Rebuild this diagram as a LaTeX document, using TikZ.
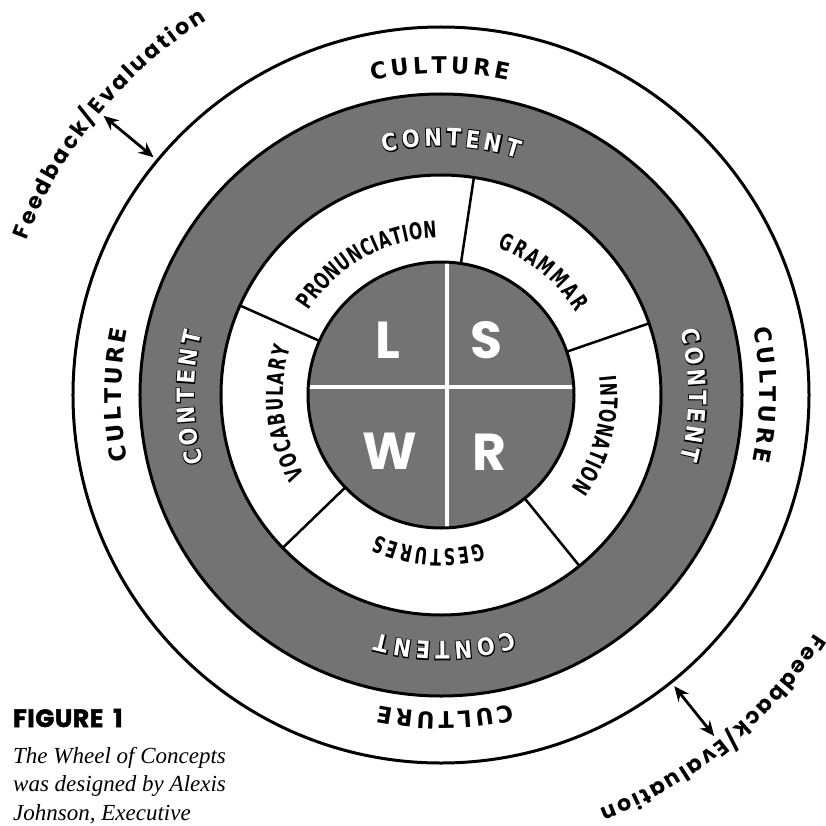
\documentclass[tikz,border=0pt]{standalone}
\usepackage{fontspec}
\usetikzlibrary{decorations.text,arrows.meta}
\newfontfamily\labfont{DejaVu Sans}[FakeStretch=0.68]
\newfontfamily\culfont{DejaVu Sans}[FakeStretch=0.97]
\newfontfamily\confont{DejaVu Sans}[FakeStretch=0.88]
\newfontfamily\confontO{DejaVu Sans}[FakeStretch=0.88,FakeBold=8]
\newfontfamily\fbfont{Poppins}
\newfontfamily\figfont{Poppins}[FakeBold=2,LetterSpace=2]
\newfontfamily\capfont{Liberation Serif}
\definecolor{ringgray}{gray}{0.45}
\newcommand\labsize{\labfont\bfseries\fontsize{23}{23}\selectfont}
\newcommand\culsize{\culfont\bfseries\fontsize{23}{23}\selectfont}
\newcommand\consize{\confont\bfseries\fontsize{24}{24}\selectfont}
\newcommand\consizeO{\confontO\bfseries\fontsize{24}{24}\selectfont}
\newcommand\fbsize{\fbfont\bfseries\fontsize{22}{22}\selectfont}
\newcommand\arclabel[6]{%
  \path[decorate,decoration={text along path,text align=fit to path,text color=#5,text={|#4|#6}}]
    (#2:#1) arc[start angle=#2,end angle=#3,radius=#1];}
\newcommand\contentlabel[3]{%
  \arclabel{#1}{#2}{#3}{\consizeO}{black}{CONTENT}%
  \arclabel{#1}{#2}{#3}{\consize}{white}{CONTENT}}
\begin{document}
\begin{tikzpicture}[x=1pt,y=1pt,
  ringline/.style={line width=3pt},
  spoke/.style={line width=2.5pt},
  fbarrow/.style={line width=2.8pt,{Stealth[length=15pt,width=13pt]}-{Stealth[length=15pt,width=13pt]}},
  bigletter/.style={white,font=\fbfont\bfseries\fontsize{52}{52}\selectfont,inner sep=0pt},
  caption/.style={anchor=base west,inner sep=0pt,font=\capfont\itshape\fontsize{23}{23}\selectfont}]
\useasboundingbox (-441,-430) rectangle (385,395);
\fill[white] (-441,-430) rectangle (385,395);
% outer circle (culture)
\draw[ringline] (0,0) circle[radius=368pt];
% content ring
\fill[ringgray] (0,0) circle[radius=301pt];
\fill[white] (0,0) circle[radius=220pt];
\draw[ringline] (0,0) circle[radius=301pt];
\draw[ringline] (0,0) circle[radius=220pt];
% spokes
\foreach \a in {81.4,19,-51,-136,156}{\draw[spoke] (\a:132pt) -- (\a:221pt);}
% centre circle
\begin{scope}
\clip (0,0) circle[radius=133pt];
\fill[ringgray] (0,0) circle[radius=133pt];
\draw[white,line width=4pt] (6,-140) -- (6,140);
\draw[white,line width=4pt] (-140,8) -- (140,8);
\end{scope}
\draw[ringline] (0,0) circle[radius=133pt];
\node[bigletter] (L) at (-53.5,55) {L};
\node[bigletter] (S) at (45,55) {S};
\node[bigletter] (W) at (-51.5,-56) {W};
\node[bigletter] (R) at (48,-57) {R};
% inner labels
\arclabel{157pt}{147.5}{91.5}{\labsize}{black}{PRONUNCIATION}
\arclabel{158pt}{69}{31.5}{\labsize}{black}{GRAMMAR}
\arclabel{160pt}{6.5}{-35.5}{\labsize}{black}{INTONATION}
\arclabel{154pt}{-74.5}{-114.5}{\labsize}{black}{GESTURES}
\arclabel{158pt}{210.5}{162.5}{\labsize}{black}{VOCABULARY}
% content labels
\contentlabel{249pt}{103.3}{72}
\contentlabel{248pt}{15}{-15}
\contentlabel{247pt}{195.8}{165.4}
\contentlabel{247pt}{-73.2}{-105.1}
% culture labels
\arclabel{322pt}{102.4}{77.9}{\culsize}{black}{CULTURE}
\arclabel{319pt}{12}{-12}{\culsize}{black}{CULTURE}
\arclabel{320pt}{191.8}{168.2}{\culsize}{black}{CULTURE}
\arclabel{317pt}{-77.1}{-101.4}{\culsize}{black}{CULTURE}
% feedback / evaluation
\arclabel{442pt}{159.5}{122}{\fbsize}{black}{Feedback/Evaluation}
\arclabel{443pt}{-32.5}{-69}{\fbsize}{black}{Feedback/Evaluation}
\coordinate (fa1) at (140.4:438pt);
\coordinate (fa2) at (140.4:373pt);
\coordinate (fb1) at (-51.3:437pt);
\coordinate (fb2) at (-51.3:373pt);
\draw[fbarrow] (fa1) -- (fa2);
\draw[fbarrow] (fb1) -- (fb2);
% caption
\node[anchor=base west,inner sep=0pt,font=\figfont\bfseries\fontsize{25}{25}\selectfont] (fig) at (-428,-332) {FIGURE\hspace{10pt}1};
\node[caption] (cap1) at (-428,-368) {The Wheel of Concepts};
\node[caption] (cap2) at (-428,-396) {was designed by Alexis};
\node[caption] (cap3) at (-428,-425) {Johnson, Executive};
\end{tikzpicture}
\end{document}
